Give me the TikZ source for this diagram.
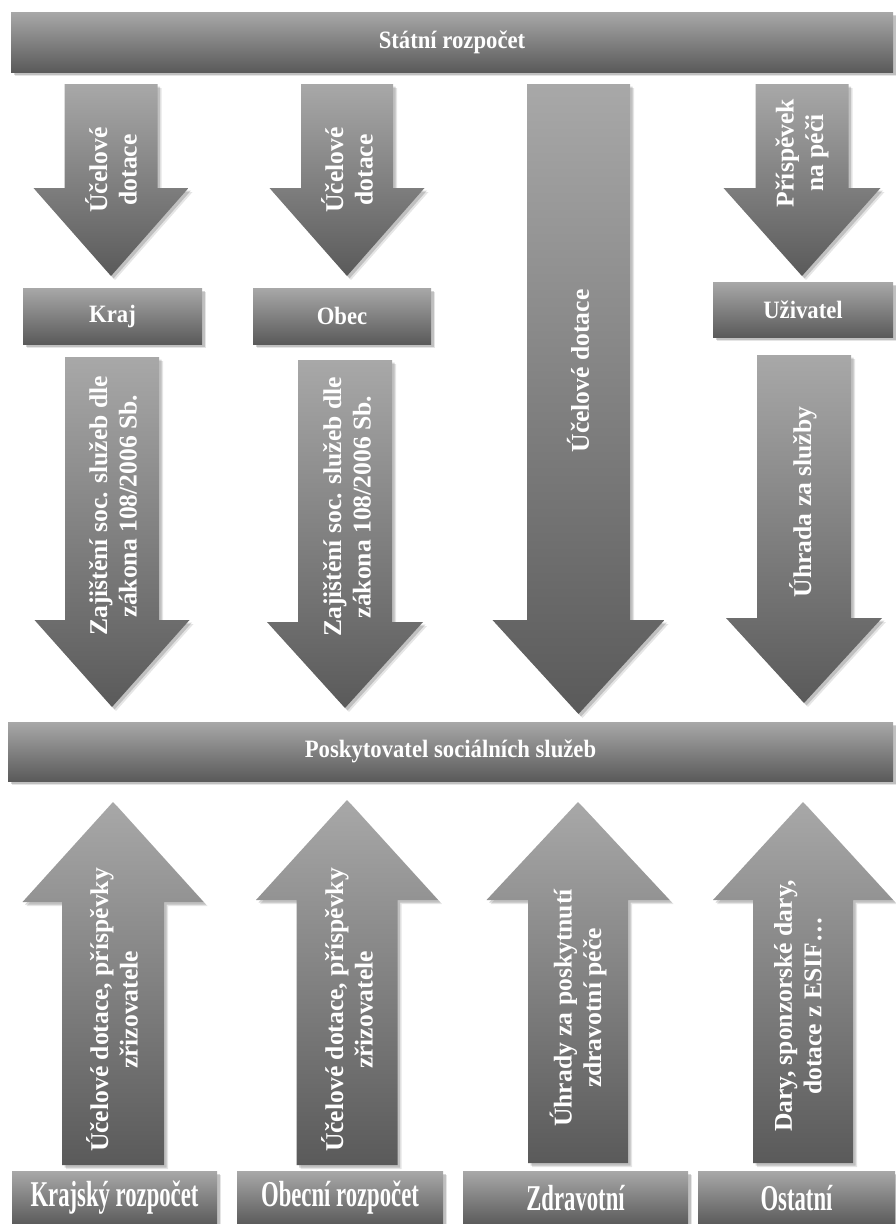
\documentclass[tikz,border=0pt]{standalone}
\usepackage{fontspec}
\setmainfont{Liberation Serif}
\usetikzlibrary{shadows}
\definecolor{gtop}{HTML}{A8A8A8}
\definecolor{gbot}{HTML}{5A5A5A}
\tikzset{
  grad/.style={top color=gtop, bottom color=gbot, draw=none,
    drop shadow={shadow xshift=4pt, shadow yshift=-4pt, opacity=0.10, fill=black},
    drop shadow={shadow xshift=2.5pt, shadow yshift=-2.5pt, opacity=0.16, fill=black}},
  barbox/.style={grad, rectangle, inner sep=0pt, text=white,
    font=\bfseries\fontsize{22.7}{26}\selectfont},
  arrlabel/.style={text=white, font=\bfseries\fontsize{25.6}{29.5}\selectfont,
    inner sep=0pt, rotate=90, align=center},
}
\newcommand\tallish[1]{\scalebox{1}[1.1]{#1}}
\newcommand\tallbase[1]{\scalebox{1}[1.6]{#1}}
% #1 centre x, #2 half shaft, #3 half head, #4 shaft end y, #5 wing y, #6 tip y
\newcommand\flowarrow[6]{%
  \path[grad] ({#1-#2},#4) -- ({#1+#2},#4) -- ({#1+#2},#5) -- ({#1+#3},#5)
    -- (#1,#6) -- ({#1-#3},#5) -- ({#1-#2},#5) -- cycle;}
\begin{document}
\begin{tikzpicture}[x=1pt,y=-1pt]
\useasboundingbox[fill=white] (0,0) rectangle (895,1224);

% top bar
\node[barbox, minimum width=882pt, minimum height=60pt] (state) at (452,42) {\tallish{Státní rozpočet}};

% first row of arrows
\flowarrow{111}{46.5}{77.5}{84}{188}{276}
\node[arrlabel] (l1) at (111,170) {Účelové\\dotace};
\flowarrow{347}{46}{77.5}{84}{188}{276}
\node[arrlabel] (l2) at (347,170) {Účelové\\dotace};
\flowarrow{578.5}{51.5}{86}{84}{620}{714}
\node[arrlabel] (l3) at (578,371) {Účelové dotace};
\flowarrow{802}{46.5}{78.5}{84}{188}{276}
\node[arrlabel] (l4) at (802,153) {Příspěvek\\na péči};

% middle boxes
\node[barbox, minimum width=179pt, minimum height=56pt] (kraj) at (112.5,316) {\tallish{Kraj}};
\node[barbox, minimum width=178pt, minimum height=56pt] (obec) at (342,316) {\tallish{Obec}};
\node[barbox, minimum width=180pt, minimum height=55pt] (uziv) at (803,309.5) {\tallish{Uživatel}};

% second row of arrows
\flowarrow{112}{47}{77.5}{357}{620}{707}
\node[arrlabel] (l5) at (113,506) {Zajištění soc. služeb dle\\zákona 108/2006 Sb.};
\flowarrow{345}{47}{78}{360}{622}{708}
\node[arrlabel] (l6) at (347,507) {Zajištění soc. služeb dle\\zákona 108/2006 Sb.};
\flowarrow{804}{47}{78}{355}{618}{703}
\node[arrlabel] (l7) at (803,502) {Úhrada za služby};

% provider bar
\node[barbox, minimum width=885pt, minimum height=59pt] (prov) at (450.5,751.5) {\tallish{Poskytovatel sociálních služeb}};

% up arrows
\flowarrow{113}{51}{90.5}{1165}{902}{802}
\node[arrlabel] (l8) at (112,1010) {Účelové dotace, příspěvky\\zřizovatele};
\flowarrow{347}{50.5}{91}{1165}{900}{800}
\node[arrlabel] (l9) at (347,1010) {Účelové dotace, příspěvky\\zřizovatele};
\flowarrow{578}{50}{91.5}{1163}{900}{802}
\node[arrlabel] (l10) at (578,1008) {Úhrady za poskytnutí\\zdravotní péče};
\flowarrow{803}{50}{90}{1163}{900}{802}
\node[arrlabel] (l11) at (798,1006) {Dary, sponzorské dary,\\dotace z ESIF…};

% bottom sources
\node[barbox, minimum width=205pt, minimum height=54pt] (krajr) at (114.5,1198) {\tallbase{Krajský rozpočet}};
\node[barbox, minimum width=206pt, minimum height=54pt] (obecr) at (340,1198) {\tallbase{Obecní rozpočet}};
\node[barbox, minimum width=225pt, minimum height=54pt] (zdrav) at (575.5,1198) {\tallbase{Zdravotní}};
\node[barbox, minimum width=197pt, minimum height=54pt] (ostat) at (796.5,1198) {\tallbase{Ostatní}};
\end{tikzpicture}
\end{document}
